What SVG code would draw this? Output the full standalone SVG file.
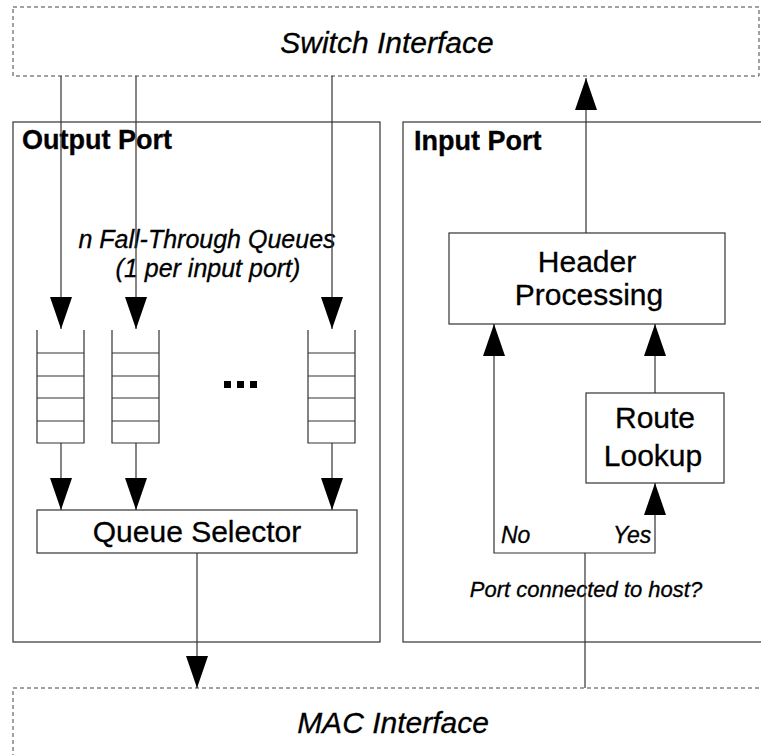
<svg xmlns="http://www.w3.org/2000/svg" width="761" height="755" viewBox="0 0 761 755">
  <defs>
    <marker id="ah" markerUnits="userSpaceOnUse" markerWidth="32" markerHeight="22" refX="32" refY="11" orient="auto">
      <path d="M0,0 L32,11 L0,22 z" fill="#000"/>
    </marker>
    <style>
      .dash { fill: none; stroke: #444; stroke-width: 1; stroke-dasharray: 4 3; }
      .box { fill: #fff; stroke: #333; stroke-width: 1.2; }
      .port { fill: none; stroke: #333; stroke-width: 1.2; }
      .q { fill: none; stroke: #333; stroke-width: 1.2; }
      .conn line, .conn polyline { fill: none; stroke: #333; stroke-width: 1.2; }
      .arr { marker-end: url(#ah); }
      text { font-family: "Liberation Sans", Arial, sans-serif; fill: #000; stroke: #000; stroke-width: 0.3; }
      .iface { font-size: 30px; font-style: italic; text-anchor: middle; }
      .title { font-size: 27px; font-weight: bold; }
      .lbl { font-size: 30px; text-anchor: middle; }
      .note { font-size: 25px; font-style: italic; text-anchor: middle; }
      .small { font-size: 23px; font-style: italic; }
    </style>
  </defs>
  <rect width="761" height="755" fill="#fff"/>

  <g id="switch-interface">
    <rect class="dash" x="13" y="7" width="746" height="69"/>
    <text class="iface" x="387" y="53">Switch Interface</text>
  </g>

  <g id="mac-interface">
    <rect class="dash" x="13" y="688" width="760" height="80"/>
    <text class="iface" x="393" y="733">MAC Interface</text>
  </g>

  <g id="output-port">
    <rect class="port" x="13" y="122" width="367" height="520"/>
    <text class="title" x="22" y="149">Output Port</text>
    <text class="note" x="207" y="248">n Fall-Through Queues</text>
    <text class="note" x="208" y="277">(1 per input port)</text>
  </g>

  <g id="input-port">
    <rect class="port" x="403" y="122" width="370" height="520"/>
    <text class="title" x="414" y="150">Input Port</text>
  </g>

  <g id="queue-1">
    <path class="q" stroke="#777" d="M37,330 V443 H84 V330 M37,353 H84 M37,376 H84 M37,398 H84 M37,421 H84"/>
  </g>
  <g id="queue-2">
    <path class="q" d="M112,330 V443 H159 V330 M112,353 H159 M112,376 H159 M112,398 H159 M112,421 H159"/>
  </g>
  <g id="queue-n">
    <path class="q" d="M308,330 V443 H355 V330 M308,353 H355 M308,376 H355 M308,398 H355 M308,421 H355"/>
  </g>
  <g id="ellipsis">
    <rect x="224" y="381" width="7" height="7" fill="#000"/>
    <rect x="237" y="381" width="7" height="7" fill="#000"/>
    <rect x="250" y="381" width="7" height="7" fill="#000"/>
  </g>

  <g id="queue-selector">
    <rect class="box" x="37" y="510" width="320" height="43"/>
    <text class="lbl" x="197" y="542">Queue Selector</text>
  </g>

  <g id="header-processing">
    <rect class="box" x="449" y="233" width="276" height="91"/>
    <text class="lbl" x="587" y="272">Header</text>
    <text class="lbl" x="589" y="305">Processing</text>
  </g>

  <g id="route-lookup">
    <rect class="box" x="586" y="393" width="138" height="90"/>
    <text class="lbl" x="655" y="428">Route</text>
    <text class="lbl" x="653" y="466">Lookup</text>
  </g>

  <g id="decision">
    <text class="small" x="501" y="543">No</text>
    <text class="small" x="613" y="543">Yes</text>
    <text class="small" x="586" y="597" text-anchor="middle" style="font-size:22px">Port connected to host?</text>
  </g>

  <g id="connectors" class="conn">
    <line class="arr" x1="61" y1="76" x2="61" y2="329"/>
    <line class="arr" x1="136" y1="76" x2="136" y2="329"/>
    <line class="arr" x1="332" y1="76" x2="332" y2="329"/>
    <line class="arr" x1="61" y1="443" x2="61" y2="510"/>
    <line class="arr" x1="136" y1="443" x2="136" y2="510"/>
    <line class="arr" x1="332" y1="443" x2="332" y2="510"/>
    <line class="arr" x1="197" y1="553" x2="197" y2="688"/>
    <line class="arr" x1="586" y1="233" x2="586" y2="78"/>
    <line x1="585" y1="688" x2="585" y2="553"/>
    <polyline class="arr" points="585,553 494,553 494,324"/>
    <polyline class="arr" points="585,553 655,553 655,483"/>
    <line class="arr" x1="655" y1="393" x2="655" y2="324"/>
  </g>
</svg>
